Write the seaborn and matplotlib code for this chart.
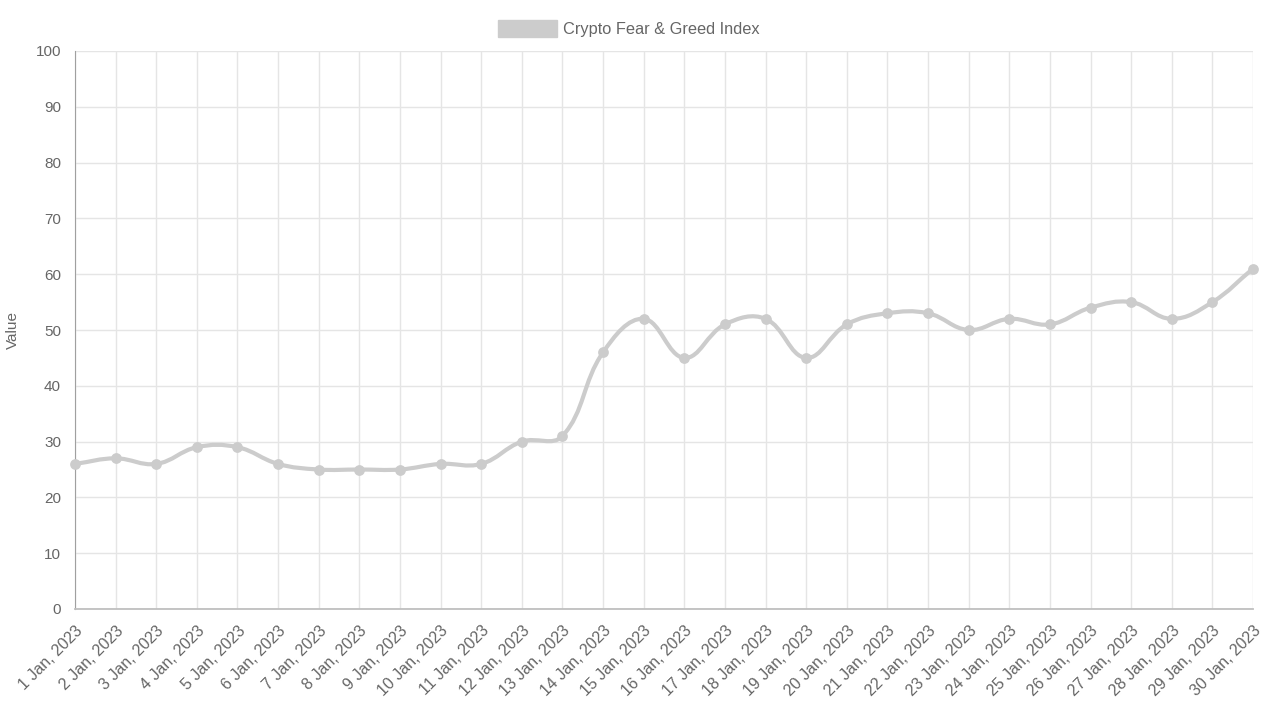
import numpy as np
import matplotlib
matplotlib.use("Agg")
import matplotlib.pyplot as plt
import matplotlib.transforms as mtransforms
import seaborn as sns
from matplotlib.path import Path
from matplotlib.patches import PathPatch, Patch

# Data
dates = [f"{d} Jan, 2023" for d in range(1, 31)]
values = [26, 27, 26, 29, 29, 26, 25, 25, 25, 26, 26, 30, 31, 46, 52,
          45, 51, 52, 45, 51, 53, 53, 50, 52, 51, 54, 55, 52, 55, 61]
series_name = "Crypto Fear & Greed Index"

LINE = "#cccccc"
TEXT = "#666666"
GRID = "#e5e5e5"

sns.set_style("white")
plt.rcParams['font.family'] = ['Liberation Sans', 'DejaVu Sans']

fig = plt.figure(figsize=(12.8, 7.2), dpi=100)
ax = fig.add_axes([75 / 1280, 1 - 609 / 720, (1253 - 75) / 1280, (609 - 51) / 720])

x = np.arange(len(values))
y = np.array(values, dtype=float)


def spline_path(xs, ys, tension=0.4, sx=40.6, sy=5.58):
    """Chart.js style bezier through the points (distances in pixel space)."""
    n = len(xs)
    cps = []
    for i in range(n):
        p = (xs[max(i - 1, 0)], ys[max(i - 1, 0)])
        c = (xs[i], ys[i])
        nx = (xs[min(i + 1, n - 1)], ys[min(i + 1, n - 1)])
        d01 = np.hypot((c[0] - p[0]) * sx, (c[1] - p[1]) * sy)
        d12 = np.hypot((nx[0] - c[0]) * sx, (nx[1] - c[1]) * sy)
        tot = d01 + d12
        s01 = d01 / tot if tot else 0
        s12 = d12 / tot if tot else 0
        fa, fb = tension * s01, tension * s12
        cps.append(((c[0] - fa * (nx[0] - p[0]), c[1] - fa * (nx[1] - p[1])),
                    (c[0] + fb * (nx[0] - p[0]), c[1] + fb * (nx[1] - p[1]))))
    verts = [(xs[0], ys[0])]
    codes = [Path.MOVETO]
    for i in range(n - 1):
        verts += [cps[i][1], cps[i + 1][0], (xs[i + 1], ys[i + 1])]
        codes += [Path.CURVE4] * 3
    return Path(verts, codes)


ax.add_patch(PathPatch(spline_path(x, y), facecolor="none", edgecolor=LINE,
                       lw=3, capstyle="round", joinstyle="round", zorder=3,
                       clip_on=False))
sns.scatterplot(x=x, y=y, ax=ax, color=LINE, s=60, edgecolor=LINE,
                linewidth=0, zorder=4, legend=False, clip_on=False)

ax.set_xlim(0, len(values) - 1)
ax.set_ylim(0, 100)
ax.set_yticks(range(0, 101, 10))
ax.set_xticks(x)
ax.set_xticklabels(dates, rotation=45, ha="right", va="top",
                   rotation_mode="anchor", fontsize=11.5)
shift = mtransforms.ScaledTranslation(-13 / 100, 6 / 100, fig.dpi_scale_trans)
for lbl in ax.get_xticklabels():
    lbl.set_transform(lbl.get_transform() + shift)

ax.grid(True, color=GRID, lw=1)
ax.set_axisbelow(True)
for side in ["top", "right"]:
    ax.spines[side].set_visible(False)
ax.spines["left"].set_color("#a0a0a0")
ax.spines["bottom"].set_color("#bfbfbf")
ax.spines["bottom"].set_linewidth(1.3)
ax.tick_params(axis="both", length=7, width=1, color=GRID,
               labelcolor=TEXT, pad=3)
ax.tick_params(axis="y", labelsize=11)

ax.set_xlabel("")
ax.set_ylabel("Value", color=TEXT, fontsize=11)
ax.yaxis.set_label_coords(-0.047, 0.5)

handle = Patch(facecolor=LINE, edgecolor=LINE)
fig.legend([handle], [series_name], loc="center", bbox_to_anchor=(0.491, 0.96),
           frameon=False, handlelength=3.6, handleheight=1.2, handletextpad=0.37,
           fontsize=11.8, labelcolor=TEXT)

fig.savefig("out.png", dpi=100)
